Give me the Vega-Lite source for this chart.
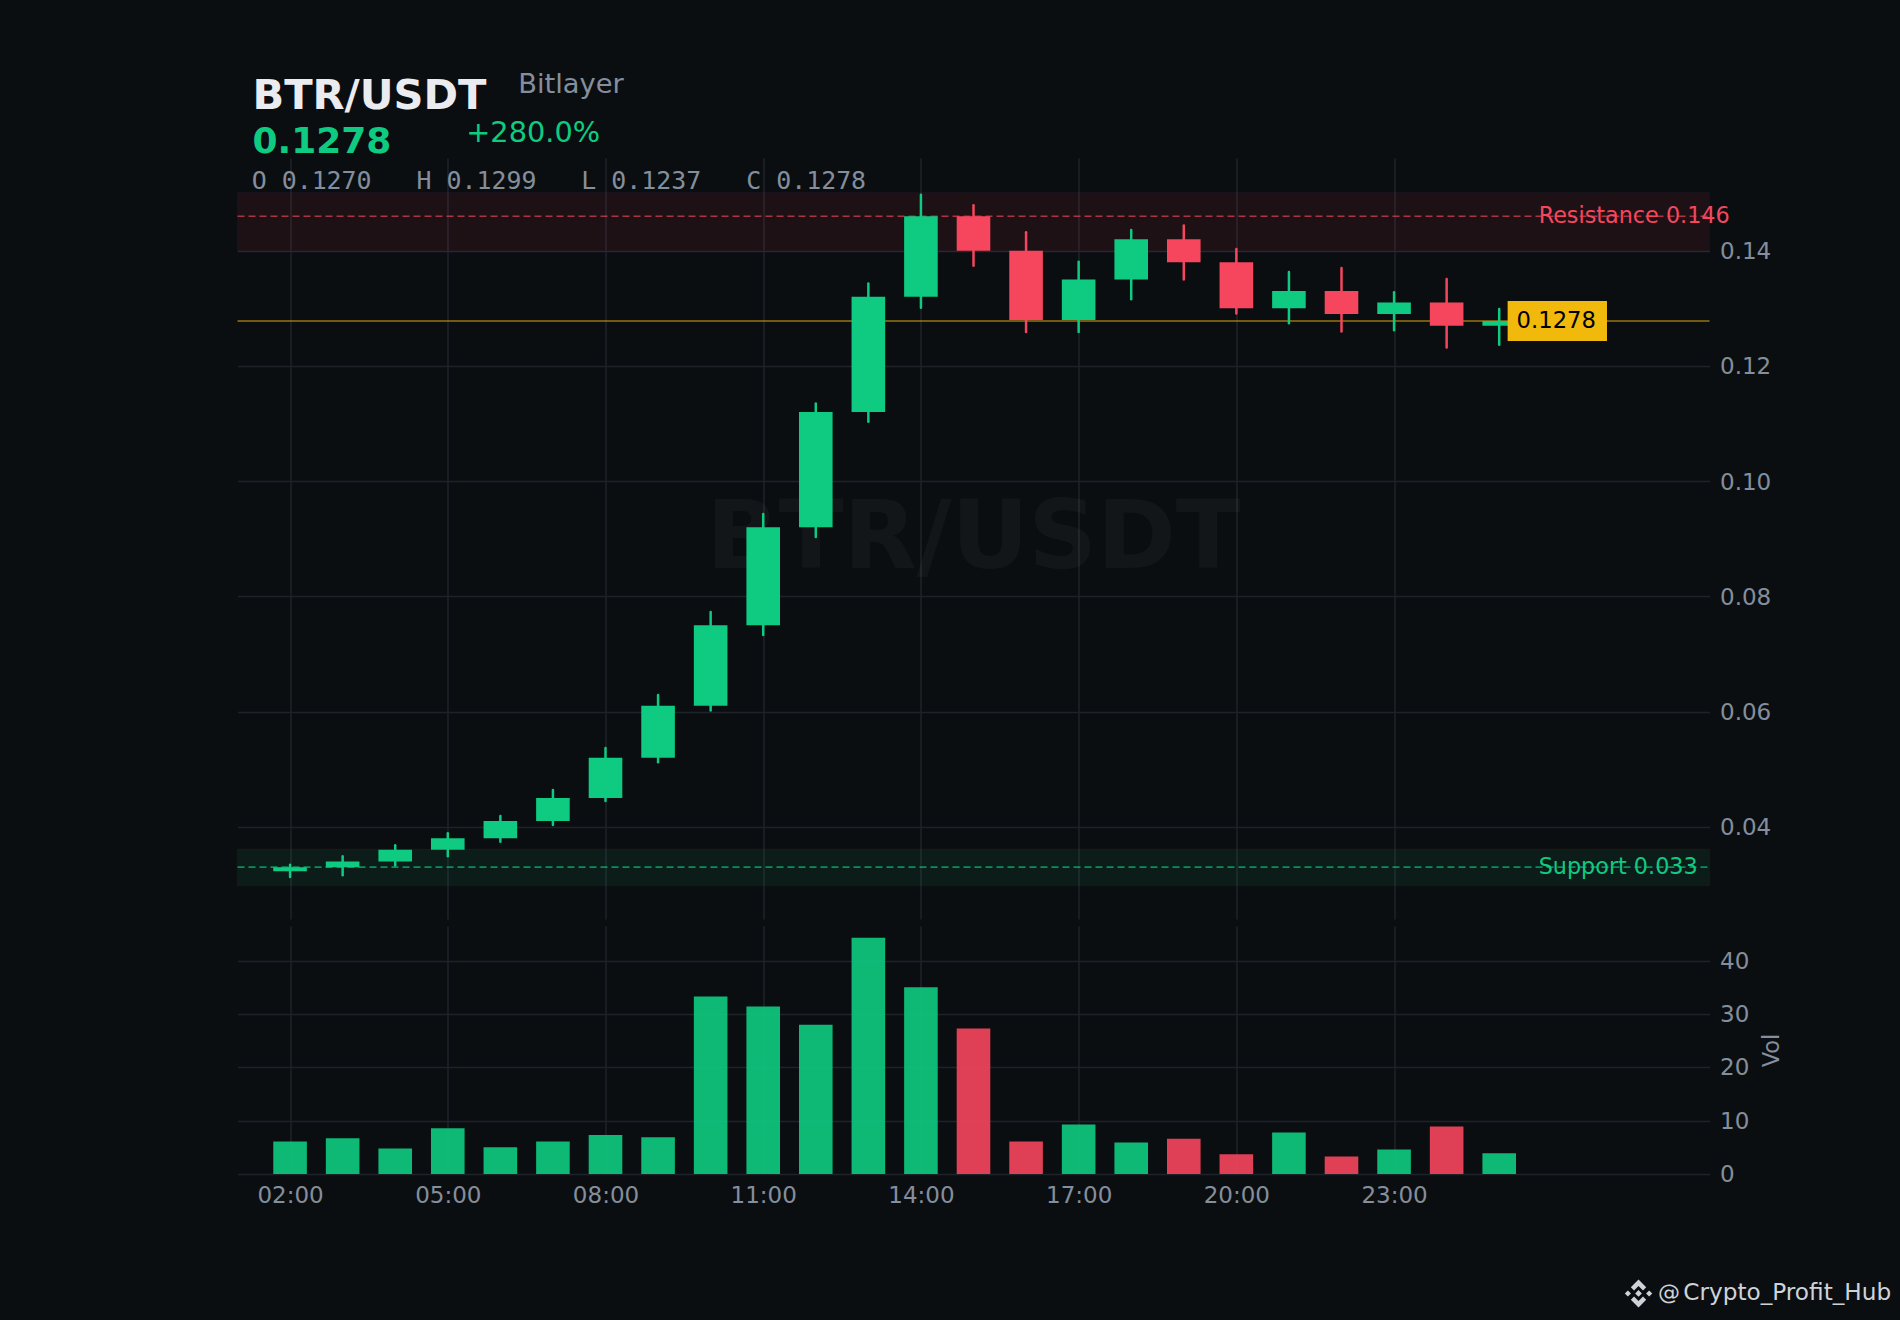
{"$schema":"https://vega.github.io/schema/vega-lite/v6.json","background":"#0b0e11","padding":{"left":236.5,"top":70,"right":8,"bottom":14},"spacing":7,"config":{"view":{"stroke":null},"text":{"font":"DejaVu Sans"},"axis":{"labelFont":"DejaVu Sans","titleFont":"DejaVu Sans","labelColor":"#848e9c","titleColor":"#848e9c","gridColor":"#1e2329","gridWidth":1.6,"domain":false,"ticks":false,"labelFontSize":23}},"datasets":{"candles":[{"hour":2,"open":0.0323,"high":0.0334,"low":0.0313,"close":0.033,"dir":"up"},{"hour":3,"open":0.033,"high":0.0349,"low":0.0316,"close":0.034,"dir":"up"},{"hour":4,"open":0.034,"high":0.0368,"low":0.0333,"close":0.036,"dir":"up"},{"hour":5,"open":0.036,"high":0.0389,"low":0.0349,"close":0.038,"dir":"up"},{"hour":6,"open":0.038,"high":0.0419,"low":0.0374,"close":0.041,"dir":"up"},{"hour":7,"open":0.041,"high":0.0464,"low":0.0403,"close":0.045,"dir":"up"},{"hour":8,"open":0.045,"high":0.0537,"low":0.0445,"close":0.052,"dir":"up"},{"hour":9,"open":0.052,"high":0.0629,"low":0.0512,"close":0.061,"dir":"up"},{"hour":10,"open":0.061,"high":0.0773,"low":0.0602,"close":0.075,"dir":"up"},{"hour":11,"open":0.075,"high":0.0943,"low":0.0733,"close":0.092,"dir":"up"},{"hour":12,"open":0.092,"high":0.1135,"low":0.0903,"close":0.112,"dir":"up"},{"hour":13,"open":0.112,"high":0.1343,"low":0.1103,"close":0.132,"dir":"up"},{"hour":14,"open":0.132,"high":0.1497,"low":0.1301,"close":0.146,"dir":"up"},{"hour":15,"open":0.146,"high":0.1479,"low":0.1374,"close":0.14,"dir":"down"},{"hour":16,"open":0.14,"high":0.1432,"low":0.1259,"close":0.128,"dir":"down"},{"hour":17,"open":0.128,"high":0.1381,"low":0.1259,"close":0.135,"dir":"up"},{"hour":18,"open":0.135,"high":0.1436,"low":0.1316,"close":0.142,"dir":"up"},{"hour":19,"open":0.142,"high":0.1444,"low":0.135,"close":0.138,"dir":"down"},{"hour":20,"open":0.138,"high":0.1403,"low":0.1291,"close":0.13,"dir":"down"},{"hour":21,"open":0.13,"high":0.1363,"low":0.1274,"close":0.133,"dir":"up"},{"hour":22,"open":0.133,"high":0.137,"low":0.126,"close":0.129,"dir":"down"},{"hour":23,"open":0.129,"high":0.1328,"low":0.1262,"close":0.131,"dir":"up"},{"hour":24,"open":0.131,"high":0.1351,"low":0.1232,"close":0.127,"dir":"down"},{"hour":25,"open":0.127,"high":0.1299,"low":0.1237,"close":0.1278,"dir":"up"}],"volume":[{"hour":2,"vol":6.1,"dir":"up"},{"hour":3,"vol":6.7,"dir":"up"},{"hour":4,"vol":4.8,"dir":"up"},{"hour":5,"vol":8.6,"dir":"up"},{"hour":6,"vol":5.0,"dir":"up"},{"hour":7,"vol":6.1,"dir":"up"},{"hour":8,"vol":7.3,"dir":"up"},{"hour":9,"vol":6.9,"dir":"up"},{"hour":10,"vol":33.3,"dir":"up"},{"hour":11,"vol":31.4,"dir":"up"},{"hour":12,"vol":28.0,"dir":"up"},{"hour":13,"vol":44.3,"dir":"up"},{"hour":14,"vol":35.0,"dir":"up"},{"hour":15,"vol":27.3,"dir":"down"},{"hour":16,"vol":6.1,"dir":"down"},{"hour":17,"vol":9.3,"dir":"up"},{"hour":18,"vol":5.9,"dir":"up"},{"hour":19,"vol":6.6,"dir":"down"},{"hour":20,"vol":3.7,"dir":"down"},{"hour":21,"vol":7.8,"dir":"up"},{"hour":22,"vol":3.3,"dir":"down"},{"hour":23,"vol":4.6,"dir":"up"},{"hour":24,"vol":8.9,"dir":"down"},{"hour":25,"vol":3.9,"dir":"up"}]},"vconcat":[{"width":1472,"height":761,"layer":[{"data":{"values":[{"x0":1,"x1":29,"y0":0.1398,"y1":0.1501,"c":"down"},{"x0":1,"x1":29,"y0":0.0298,"y1":0.0361,"c":"up"}]},"mark":{"type":"rect","fillOpacity":0.08,"strokeOpacity":0.04,"strokeWidth":1.5},"encoding":{"x":{"field":"x0","type":"quantitative","scale":{"domain":[1,29],"nice":false,"zero":false,"padding":0},"axis":{"values":[2,5,8,11,14,17,20,23],"grid":true,"labels":false,"title":null,"orient":"bottom"}},"x2":{"field":"x1"},"y":{"field":"y0","type":"quantitative","scale":{"domain":[0.024,0.1561],"nice":false,"zero":false},"axis":{"orient":"right","values":[0.04,0.06,0.08,0.1,0.12,0.14],"format":".2f","title":null,"grid":true,"labelPadding":10,"labelOffset":1}},"y2":{"field":"y1"},"fill":{"field":"c","type":"nominal","scale":{"domain":["up","down"],"range":["#0ecb81","#f6465d"]},"legend":null},"stroke":{"field":"c","type":"nominal","legend":null}}},{"data":{"values":[{"v":"BTR/USDT","x":15,"y":0.09}]},"mark":{"type":"text","font":"DejaVu Sans","fontWeight":"bold","fontSize":95,"fill":"#ffffff","opacity":0.03,"baseline":"middle","align":"center"},"encoding":{"x":{"field":"x","type":"quantitative"},"y":{"field":"y","type":"quantitative"},"text":{"field":"v"}}},{"data":{"values":[{"v":0.146,"x0":1,"x1":29,"c":"down"},{"v":0.033,"x0":1,"x1":29,"c":"up"}]},"mark":{"type":"rule","strokeDash":[7,4],"strokeWidth":1.6,"opacity":0.65},"encoding":{"x":{"field":"x0","type":"quantitative"},"x2":{"field":"x1"},"y":{"field":"v","type":"quantitative"},"color":{"field":"c","type":"nominal","legend":null}}},{"data":{"values":[{"v":0.1278,"x0":1,"x1":29}]},"mark":{"type":"rule","stroke":"#f0b90b","strokeWidth":1.6,"opacity":0.6},"encoding":{"x":{"field":"x0","type":"quantitative"},"x2":{"field":"x1"},"y":{"field":"v","type":"quantitative"}}},{"data":{"name":"candles"},"mark":{"type":"rule","strokeWidth":2.5,"strokeCap":"round"},"encoding":{"x":{"field":"hour","type":"quantitative"},"y":{"field":"low","type":"quantitative"},"y2":{"field":"high"},"color":{"field":"dir","type":"nominal","legend":null}}},{"data":{"name":"candles"},"mark":{"type":"bar","size":33.6},"encoding":{"x":{"field":"hour","type":"quantitative"},"y":{"field":"open","type":"quantitative"},"y2":{"field":"close"},"color":{"field":"dir","type":"nominal","legend":null}}},{"data":{"values":[{"t":"Resistance 0.146","x":25.75,"y":0.146,"c":"down"},{"t":"Support 0.033","x":25.75,"y":0.033,"c":"up"}]},"mark":{"type":"text","font":"DejaVu Sans","fontSize":22.3,"align":"left","baseline":"middle"},"encoding":{"x":{"field":"x","type":"quantitative"},"y":{"field":"y","type":"quantitative"},"text":{"field":"t"},"color":{"field":"c","type":"nominal","legend":null}}},{"data":{"values":[{"x0":25.16,"x1":27.05,"y0":0.12432,"y1":0.13127}]},"mark":{"type":"rect","fill":"#f0b90b"},"encoding":{"x":{"field":"x0","type":"quantitative"},"x2":{"field":"x1"},"y":{"field":"y0","type":"quantitative"},"y2":{"field":"y1"}}},{"data":{"values":[{"t":"0.1278","x":25.33,"y":0.1278}]},"mark":{"type":"text","font":"DejaVu Sans","fontSize":22.7,"fill":"#000000","align":"left","baseline":"middle"},"encoding":{"x":{"field":"x","type":"quantitative"},"y":{"field":"y","type":"quantitative"},"text":{"field":"t"}}},{"data":{"values":[{"t":"BTR/USDT","x":1.285,"y":0.1646}]},"mark":{"type":"text","font":"DejaVu Sans","fontWeight":"bold","fontSize":41.6,"fill":"#eaecef","align":"left","baseline":"alphabetic"},"encoding":{"x":{"field":"x","type":"quantitative"},"y":{"field":"y","type":"quantitative"},"text":{"field":"t"}}},{"data":{"values":[{"t":"Bitlayer","x":6.34,"y":0.1674}]},"mark":{"type":"text","font":"DejaVu Sans","fontSize":27.3,"fill":"#848e9c","align":"left","baseline":"alphabetic"},"encoding":{"x":{"field":"x","type":"quantitative"},"y":{"field":"y","type":"quantitative"},"text":{"field":"t"}}},{"data":{"values":[{"t":"0.1278","x":1.285,"y":0.157}]},"mark":{"type":"text","font":"DejaVu Sans","fontWeight":"bold","fontSize":36,"fill":"#0ecb81","align":"left","baseline":"alphabetic"},"encoding":{"x":{"field":"x","type":"quantitative"},"y":{"field":"y","type":"quantitative"},"text":{"field":"t"}}},{"data":{"values":[{"t":"+280.0%","x":5.35,"y":0.1588}]},"mark":{"type":"text","font":"DejaVu Sans","fontSize":28.8,"fill":"#0ecb81","align":"left","baseline":"alphabetic"},"encoding":{"x":{"field":"x","type":"quantitative"},"y":{"field":"y","type":"quantitative"},"text":{"field":"t"}}},{"data":{"values":[{"t":"O 0.1270\u00a0\u00a0\u00a0H 0.1299\u00a0\u00a0\u00a0L 0.1237\u00a0\u00a0\u00a0C 0.1278","x":1.27,"y":0.1507}]},"mark":{"type":"text","font":"DejaVu Sans Mono","fontSize":24.9,"fill":"#848e9c","align":"left","baseline":"alphabetic"},"encoding":{"x":{"field":"x","type":"quantitative"},"y":{"field":"y","type":"quantitative"},"text":{"field":"t"}}}]},{"width":1472,"height":248,"layer":[{"data":{"name":"volume"},"mark":{"type":"bar","size":33.6,"opacity":0.9},"encoding":{"x":{"field":"hour","type":"quantitative","scale":{"domain":[1,29],"nice":false,"zero":false,"padding":0},"axis":{"values":[2,5,8,11,14,17,20,23],"grid":true,"title":null,"labelPadding":10,"labelExpr":"(datum.value<10?'0':'')+datum.value+':00'"}},"y":{"field":"vol","type":"quantitative","scale":{"domain":[0,46.5],"nice":false},"axis":{"orient":"right","values":[0,10,20,30,40],"title":"Vol","titleAngle":270,"titleFontSize":22.5,"titleFontWeight":"normal","titlePadding":35,"grid":true,"labelPadding":10,"labelOffset":0.5}},"color":{"field":"dir","type":"nominal","scale":{"domain":["up","down"],"range":["#0ecb81","#f6465d"]},"legend":null}}},{"data":{"values":[{"t":"@","x":28.02,"y":-23.6}]},"mark":{"type":"text","font":"DejaVu Sans","fontSize":22,"fill":"#cfd3d8","align":"left","baseline":"alphabetic"},"encoding":{"x":{"field":"x","type":"quantitative"},"y":{"field":"y","type":"quantitative"},"text":{"field":"t"}}},{"data":{"values":[{"t":"Crypto_Profit_Hub","x":28.5,"y":-23.6}]},"mark":{"type":"text","font":"DejaVu Sans","fontSize":23.2,"fill":"#cfd3d8","align":"left","baseline":"alphabetic"},"encoding":{"x":{"field":"x","type":"quantitative"},"y":{"field":"y","type":"quantitative"},"text":{"field":"t"}}},{"data":{"values":[{"t":"logo","x":27.65,"y":-22.4}]},"mark":{"type":"point","filled":true,"opacity":1,"size":784,"fill":"#cfd3d8","stroke":null,"shape":"M0 -1L0.55 -0.45L0.32 -0.22L0 -0.54L-0.32 -0.22L-0.55 -0.45ZM0 1L0.55 0.45L0.32 0.22L0 0.54L-0.32 0.22L-0.55 0.45ZM0 -0.24L0.24 0L0 0.24L-0.24 0ZM-0.76 -0.22L-0.54 0L-0.76 0.22L-0.98 0ZM0.76 -0.22L0.98 0L0.76 0.22L0.54 0Z"},"encoding":{"x":{"field":"x","type":"quantitative"},"y":{"field":"y","type":"quantitative"}}}]}]}
